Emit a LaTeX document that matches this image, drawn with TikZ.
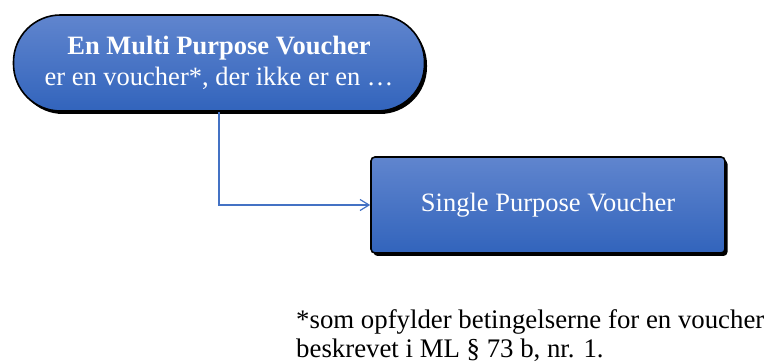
\documentclass[tikz,border=0pt]{standalone}
\usepackage{fontspec}
\setmainfont{Liberation Serif}
\usetikzlibrary{shadows,arrows.meta}
\definecolor{boxtop}{RGB}{96,133,206}
\definecolor{boxbot}{RGB}{50,100,188}
\definecolor{linkblue}{RGB}{68,114,196}
\tikzset{
  bluebox/.style={draw=black, line width=1.6pt, top color=boxtop, bottom color=boxbot,
    text=white, align=center, font=\fontsize{26.5}{31}\selectfont,
    drop shadow={shadow xshift=2.5pt, shadow yshift=-3pt, fill=black, opacity=1}},
  link/.style={draw=linkblue, line width=1.2pt, -{Straight Barb[length=9pt,width=11pt]}},
}
\begin{document}
\begin{tikzpicture}[x=1pt,y=-1pt]
\useasboundingbox (0,0) rectangle (765,363);
\node[bluebox, rounded corners=47pt, minimum width=411pt, minimum height=96pt]
  (mpv) at (219,63) {\textbf{En Multi Purpose Voucher}\\er en voucher*, der ikke er en …};
\node[bluebox, rounded corners=4pt, minimum width=354pt, minimum height=96pt]
  (spv) at (548,205) {Single Purpose Voucher};
\draw[link] (mpv.south) |- (spv.west);
\node[anchor=north west, align=left, inner sep=0pt, font=\fontsize{26.8}{29}\selectfont]
  (note) at (296,309) {*som opfylder betingelserne for en voucher\\beskrevet i ML § 73 b, nr. 1.};
\end{tikzpicture}
\end{document}
